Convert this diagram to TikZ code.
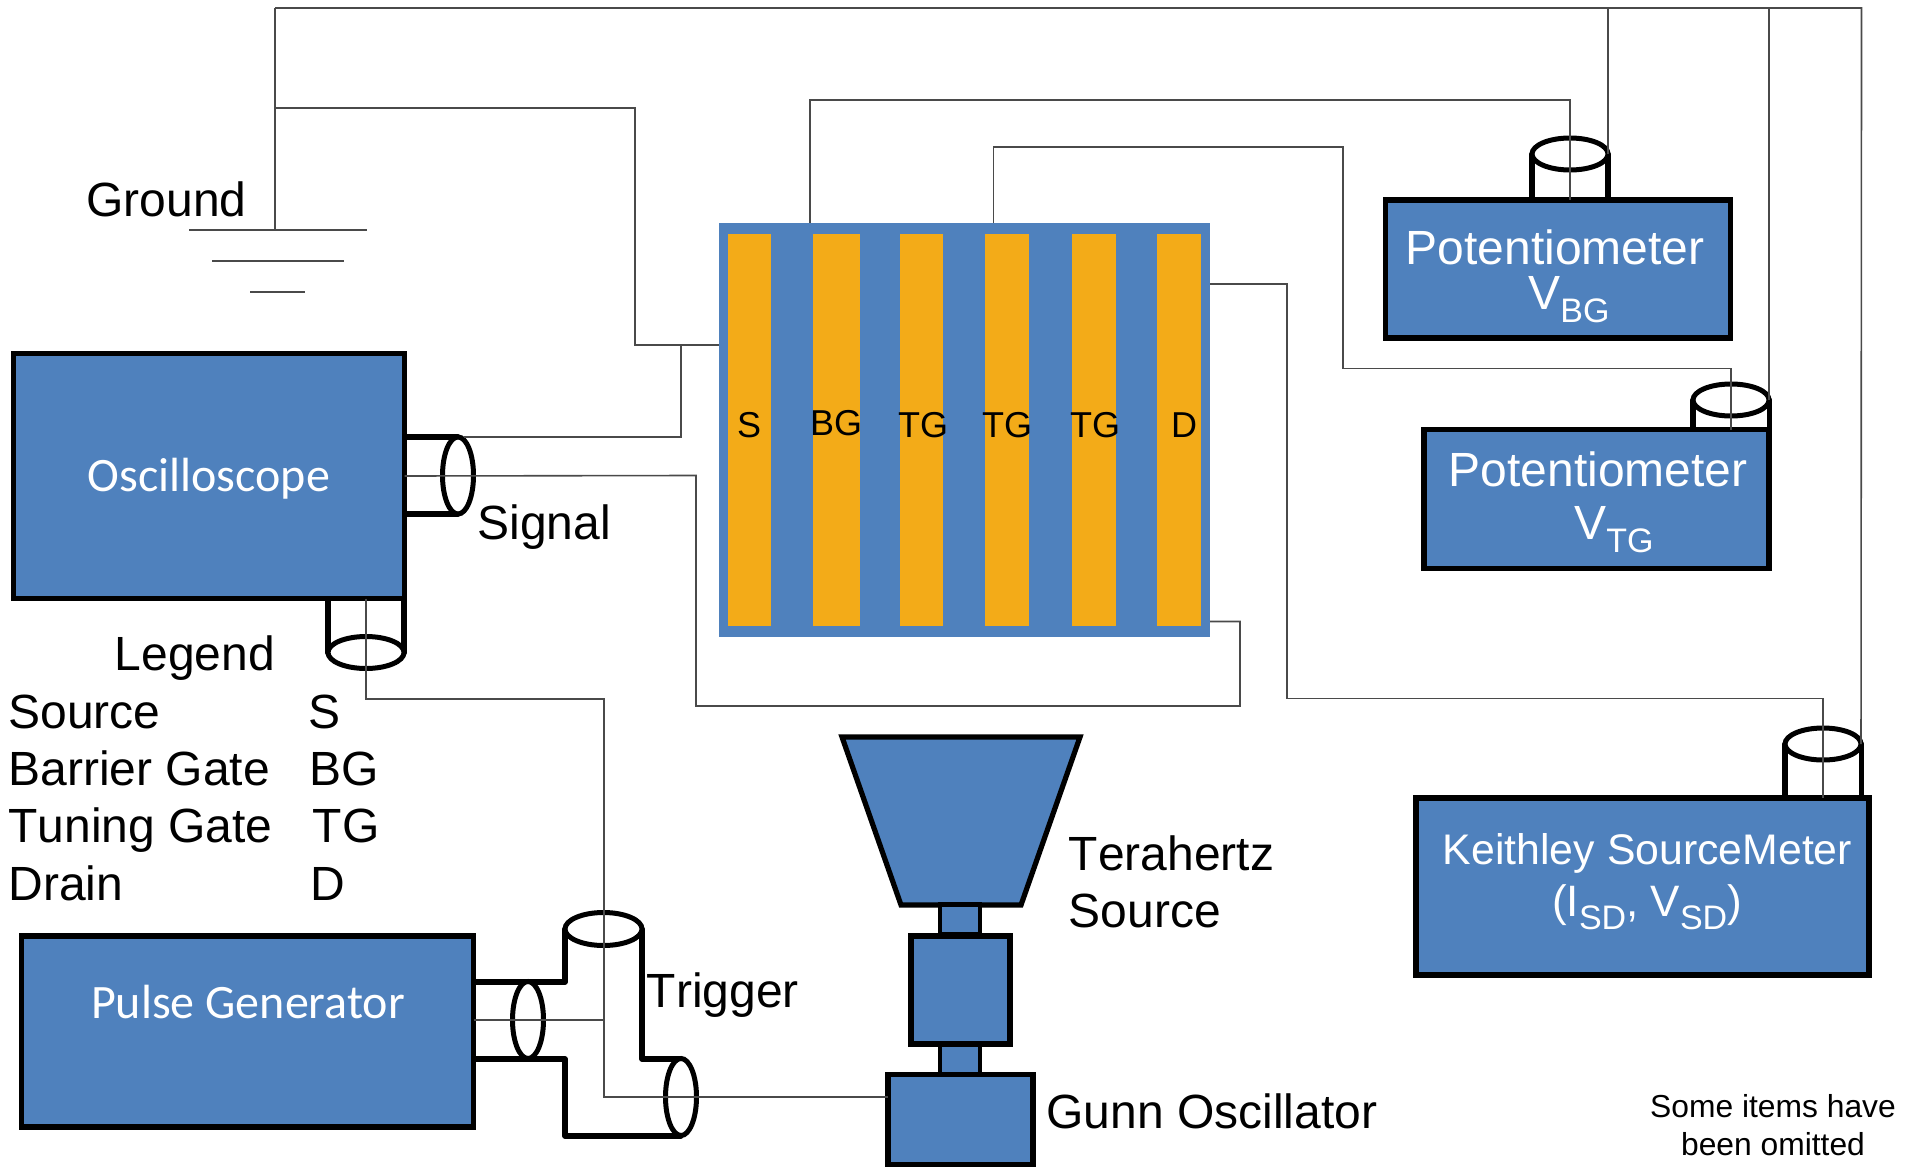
\documentclass[tikz,border=0pt]{standalone}
\usepackage{fontspec}
\setmainfont[Kerning=Off]{Liberation Sans}
\newfontfamily\scopefont{Carlito}
\usetikzlibrary{shapes.geometric}
\definecolor{DevBlue}{HTML}{4F81BD}
\definecolor{GateOrange}{HTML}{F3AB18}
\definecolor{WireGray}{HTML}{4A4A4A}
\newcommand{\subtxt}[1]{\raisebox{-6.6pt}{\fontsize{17}{18}\selectfont #1}}
\tikzset{
  devbox/.style={draw=black,fill=DevBlue,line width=2.6pt,inner sep=0pt,outer sep=0pt,text=white},
  neck/.style={draw=black,fill=DevBlue,line width=2.1pt,inner sep=0pt,outer sep=0pt},
  gatebar/.style={fill=GateOrange,inner sep=0pt,outer sep=0pt,minimum height=196pt},
  wire/.style={WireGray,line width=0.8pt},
  cable/.style={black,line width=2.6pt,line cap=round,line join=round},
  cableend/.style={ellipse,draw=black,fill=white,line width=2.5pt,inner sep=0pt,outer sep=0pt},
  lbl/.style={anchor=base west,inner sep=0pt,font=\fontsize{24}{29.5}\selectfont},
  gatelbl/.style={inner sep=0pt,font=\fontsize{18}{20}\selectfont},
  devlbl/.style={anchor=base west,inner sep=0pt,text=white,font=\fontsize{24}{28}\selectfont},
  scopelbl/.style={anchor=base,inner sep=0pt,text=white,font=\scopefont\fontsize{24}{28}\selectfont},
}
\begin{document}
\begin{tikzpicture}[x=0.5pt,y=-0.5pt]
    \useasboundingbox (0,0) rectangle (1914,1166);
    %% Instruments
    \node[devbox,minimum width=195.5pt,minimum height=122.5pt] (scope) at (209,476) {};
    \node[devbox,minimum width=226pt,minimum height=95.5pt] (pulse) at (247.5,1031.5) {};
    \node[devbox,minimum width=172.5pt,minimum height=69pt] (potbg) at (1558,269) {};
    \node[devbox,minimum width=172.5pt,minimum height=69.5pt] (pottg) at (1596.5,499) {};
    \node[devbox,minimum width=226.5pt,minimum height=88.5pt] (keith) at (1642.5,886.5) {};
    %% Terahertz chain
    \draw[black,fill=DevBlue,line width=2.6pt,line join=miter] (842,737) -- (1080,737) -- (1021,905) -- (901,905) -- cycle;
    \node[neck,minimum width=20pt,minimum height=15pt] (neckup) at (960,919.5) {};
    \node[neck,minimum width=20pt,minimum height=15pt] (neckdn) at (960,1059) {};
    \node[devbox,minimum width=49.5pt,minimum height=54pt] (guide) at (960.5,990) {};
    \node[devbox,minimum width=72.5pt,minimum height=45pt] (gunn) at (960.5,1119.5) {};
    %% Device
    \node[fill=DevBlue,inner sep=0pt,outer sep=0pt,minimum width=245.5pt,minimum height=207pt] (board) at (964.5,430) {};
    \node[gatebar,minimum width=21.5pt] (barS) at (749.5,430) {};
    \node[gatebar,minimum width=23.5pt] (barBG) at (836.5,430) {};
    \node[gatebar,minimum width=21.5pt] (barTGa) at (921.5,430) {};
    \node[gatebar,minimum width=22pt] (barTGb) at (1007,430) {};
    \node[gatebar,minimum width=22pt] (barTGc) at (1094,430) {};
    \node[gatebar,minimum width=22pt] (barD) at (1179,430) {};
    \node[gatelbl] (lblS) at (749,425) {S};
    \node[gatelbl] (lblBG) at (836,423) {BG};
    \node[gatelbl] (lblTGa) at (923,425) {TG};
    \node[gatelbl] (lblTGb) at (1007,425) {TG};
    \node[gatelbl] (lblTGc) at (1095,425) {TG};
    \node[gatelbl] (lblD) at (1184,425) {D};
    %% Cable stubs
    \draw[cable] (407,437) -- (458,437) (407,514) -- (458,514);
    \node[cableend,minimum width=15.5pt,minimum height=38.5pt] (sigend) at (458,475.5) {};
    \draw[cable] (328,601) -- (328,653) (404,601) -- (404,653);
    \node[cableend,minimum width=38pt,minimum height=16pt] (trigout) at (366,652.5) {};
    \draw[cable] (1532,197) -- (1532,154) (1608,197) -- (1608,154);
    \node[cableend,minimum width=38pt,minimum height=16pt] (bgend) at (1570,154) {};
    \draw[cable] (1693,427) -- (1693,400) (1769.5,452) -- (1769.5,400);
    \node[cableend,minimum width=38pt,minimum height=16pt] (tgend) at (1731,400) {};
    \draw[cable] (1785,795) -- (1785,744) (1861.5,795) -- (1861.5,744);
    \node[cableend,minimum width=38pt,minimum height=16pt] (sdend) at (1823,744) {};
    %% Pulse tee
    \draw[cable] (476,982) -- (565,982) -- (565,929);
    \draw[cable] (642,929) -- (642,1059) -- (681,1059);
    \draw[cable] (476,1059) -- (565,1059) -- (565,1136) -- (681,1136);
    \node[cableend,minimum width=15.5pt,minimum height=38.5pt] (pulseend) at (528,1020) {};
    \node[cableend,minimum width=38.5pt,minimum height=16.5pt] (teetop) at (603.5,929) {};
    \node[cableend,minimum width=15.5pt,minimum height=38.5pt] (teeright) at (681,1097) {};
    %% Ground
    \coordinate (gndtop) at (275,8);
    \node[minimum width=89pt,inner sep=0pt,outer sep=0pt] (gnda) at (278,230) {};
    \node[minimum width=66pt,inner sep=0pt,outer sep=0pt] (gndb) at (278,261) {};
    \node[minimum width=27.5pt,inner sep=0pt,outer sep=0pt] (gndc) at (277.5,292) {};
    \draw[wire] (gnda.west) -- (gnda.east);
    \draw[wire] (gndb.west) -- (gndb.east);
    \draw[wire] (gndc.west) -- (gndc.east);
    \coordinate (gndtap) at (275,108);
    \coordinate (srcnode) at (681,345);
    \coordinate (topright) at (1861.5,8);
    %% Wiring
    \draw[wire] (gndtop) -- (275,230);
    \draw[wire] (gndtop) -- (topright) -- (sdend.east);
    \draw[wire] (gndtap) -- (635,108) |- (board.west |- srcnode);
    \draw[wire] (464,437) -| (srcnode);
    \draw[wire] (scope.east) -- (696,475.5) |- (1240,706) |- (board.east |- 0,621.5);
    \draw[wire] (scope.south -| trigout) -- (366,699) -- (604,699) -- (604,1097) -- (gunn.west |- teeright);
    \draw[wire] (pulse.east |- pulseend) -- (604,1020);
    \draw[wire] (board.north -| 810,0) |- (1570,100) -- (potbg.north -| bgend);
    \draw[wire] (board.north -| 993.5,0) |- (1343,147) |- (1731,368.5) -- (pottg.north -| tgend);
    \draw[wire] (board.east |- 0,284) -- (1287,284) |- (1823,698.5) -- (keith.north -| sdend);
    \draw[wire] (bgend.east |- gndtop) -- (bgend.east);
    \draw[wire] (tgend.east |- gndtop) -- (tgend.east);
    %% Device labels
    \node[scopelbl] (scopetxt) at (209,491.5) {Oscilloscope};
    \node[scopelbl] (pulsetxt) at (248,1018.5) {Pulse Generator};
    \node[devlbl,anchor=base] (potbgtxt) at (1555,264) {Potentiometer};
    \node[devlbl] (potbgv) at (1528,309) {V\subtxt{BG}};
    \node[devlbl,anchor=base] (pottgtxt) at (1598,486) {Potentiometer};
    \node[devlbl] (pottgv) at (1574,539.5) {V\subtxt{TG}};
    \node[devlbl,anchor=base,font=\fontsize{21.4}{26}\selectfont] (keithtxt) at (1647.5,864) {Keithley SourceMeter};
    \node[devlbl,anchor=base,font=\fontsize{22}{26}\selectfont] (keithv) at (1647,916) {(I\subtxt{SD}, V\subtxt{SD})};
    %% Labels
    \node[lbl] (gndlbl) at (86,217) {Ground};
    \node[lbl] (siglbl) at (477,539.5) {Signal};
    \node[lbl] (trglbl) at (646.5,1007) {Trigger};
    \node[lbl] (thzlbl) at (1068.5,870) {Terahertz};
    \node[lbl] (thzlblb) at (1068.5,927) {Source};
    \node[lbl] (gunnlbl) at (1046,1128) {Gunn Oscillator};
    \node[lbl] (leglbl) at (114.5,670) {Legend};
    \node[lbl] (legS) at (8,728) {Source};
    \node[lbl] (legBG) at (8,785) {Barrier Gate};
    \node[lbl] (legTG) at (8,842.5) {Tuning Gate};
    \node[lbl] (legD) at (8,900) {Drain};
    \node[lbl] (symS) at (308,728) {S};
    \node[lbl] (symBG) at (309.5,785) {BG};
    \node[lbl] (symTG) at (312.5,842.5) {TG};
    \node[lbl] (symD) at (310,900) {D};
    \node[anchor=base,inner sep=0pt,font=\fontsize{15.9}{18}\selectfont] (notea) at (1773,1117) {Some items have};
    \node[anchor=base,inner sep=0pt,font=\fontsize{15.9}{18}\selectfont] (noteb) at (1773,1155) {been omitted};
\end{tikzpicture}
\end{document}
